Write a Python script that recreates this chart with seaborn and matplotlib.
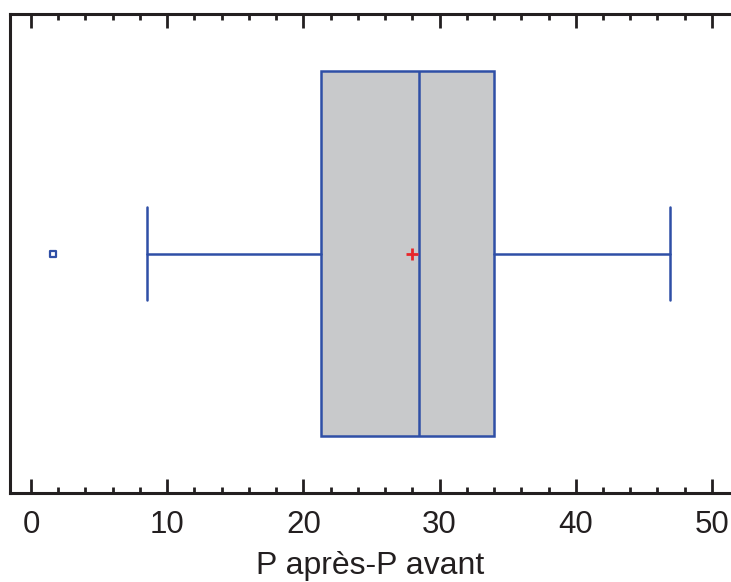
import matplotlib
matplotlib.use("Agg")
import matplotlib.pyplot as plt
import seaborn as sns
import numpy as np
import pandas as pd
from matplotlib.ticker import MultipleLocator

# Summary values
variable = "P après-P avant"
whisker_low = 8.5
q1 = 21.3
median = 28.5
q3 = 34.0
whisker_high = 46.9
mean_value = 28.0
outliers = [1.6]
x_ticks = [0, 10, 20, 30, 40, 50]

sns.set_style("white")
plt.rcParams["font.family"] = ["Liberation Sans", "DejaVu Sans"]

fig = plt.figure(figsize=(7.31, 5.82), dpi=100)
W, H = 731, 582
x0_px, x1_px = 10, 731
y_top, y_bot = 14, 493
ax = fig.add_axes([x0_px / W, 1 - y_bot / H, (x1_px - x0_px) / W, (y_bot - y_top) / H])

blue = "#2f4fa6"
stats = [dict(med=median, q1=q1, q3=q3, whislo=whisker_low, whishi=whisker_high,
              fliers=outliers, mean=mean_value, label=variable)]
ax.bxp(stats, positions=[0], widths=0.762, vert=False, patch_artist=True,
       showmeans=False, showfliers=False,
       boxprops=dict(facecolor="#c8c9cb", edgecolor=blue, linewidth=1.8),
       medianprops=dict(color=blue, linewidth=1.8),
       whiskerprops=dict(color=blue, linewidth=1.8),
       capprops=dict(color=blue, linewidth=1.8),
       capwidths=0.195)

pts = pd.DataFrame({"x": outliers, "y": [0] * len(outliers)})
sns.scatterplot(data=pts, x="x", y="y", ax=ax, marker="s", s=22,
                facecolor="white", edgecolor=blue, linewidth=1.6, legend=False, zorder=5)
ax.plot([mean_value], [0], marker="+", color="#e8262a", markersize=9,
        markeredgewidth=2.0, zorder=6)

ax.set_xlim(-1.54, 51.4)
ax.set_ylim(-0.5, 0.5)
ax.invert_yaxis()
ax.set_yticks([])
ax.set_xticks(x_ticks)
ax.xaxis.set_minor_locator(MultipleLocator(2))
ax.tick_params(axis="x", which="major", direction="in", length=10, width=2,
               top=True, bottom=True, labelsize=22.5, color="#231f20", labelcolor="#231f20", pad=12)
ax.tick_params(axis="x", which="minor", direction="in", length=4, width=2,
               top=True, bottom=True, color="#231f20")
ax.set_xlabel(variable, fontsize=23, color="#231f20", labelpad=8)
ax.set_ylabel("")
for side in ["left", "top", "bottom"]:
    ax.spines[side].set_visible(True)
    ax.spines[side].set_linewidth(2.2)
    ax.spines[side].set_color("#231f20")
ax.spines["right"].set_visible(False)

fig.savefig("out.png", dpi=100)
